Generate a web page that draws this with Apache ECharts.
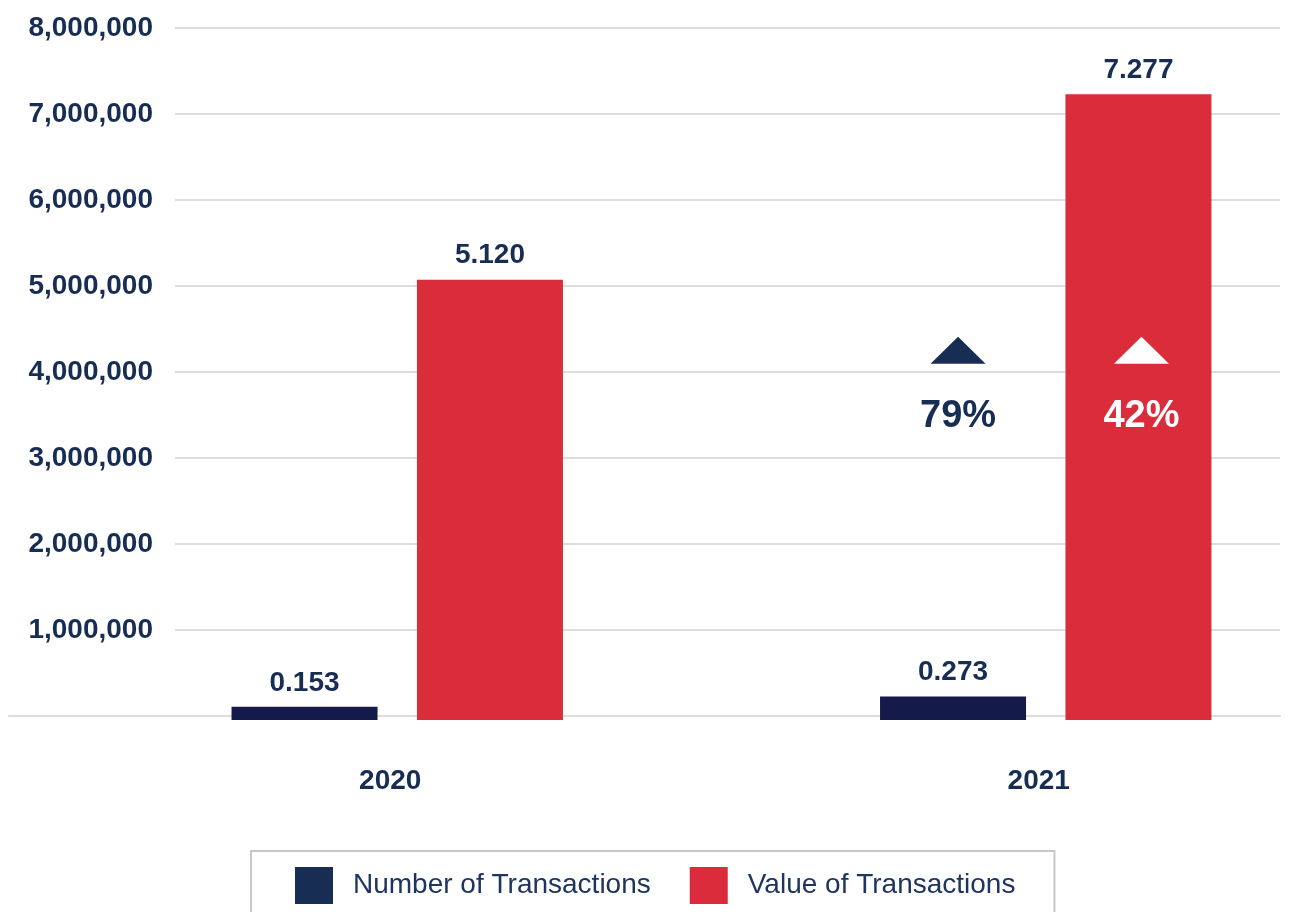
<!DOCTYPE html>
<html>
<head>
<meta charset="utf-8">
<title>Number and Value of Transactions</title>
<script src="https://cdn.jsdelivr.net/npm/echarts@6/dist/echarts.min.js"></script>
<style>
  html, body { margin: 0; padding: 0; background: #ffffff; }
  #chart { width: 1293px; height: 912px; }
</style>
</head>
<body>
<div id="chart"></div>
<script>
// Chart data
const years = ['2020', '2021'];
const numberOfTransactions = [153000, 273000];
const valueOfTransactions = [5120000, 7277000];
const changeLabels = ['79%', '42%'];   // year-on-year change shown over the 2021 bars
const axisMin = 0;
const axisMax = 8000000;
const axisStep = 1000000;

const FONT = "'Liberation Sans', Arial, Helvetica, sans-serif";
const NAVY_TEXT = '#172d54';
const NAVY_BAR = '#141a4a';
const NAVY_KEY = '#172d54';
const RED = '#db2c3b';
const GRID_LINE = '#dddddd';

function withCommas(v) {
  return String(v).replace(/\B(?=(\d{3})+(?!\d))/g, ',');
}
function millions(p) {
  return (p.value / 1e6).toFixed(3);
}

const chart = echarts.init(document.getElementById('chart'), null, { renderer: 'canvas' });

const valueLabel = {
  show: true,
  position: 'top',
  distance: 10,
  formatter: millions,
  color: NAVY_TEXT,
  fontFamily: FONT,
  fontWeight: 'bold',
  fontSize: 28
};

chart.setOption({
  backgroundColor: '#ffffff',
  animation: false,
  textStyle: { fontFamily: FONT },
  legend: {
    left: 251,
    top: 851,
    orient: 'horizontal',
    padding: [16, 39, 16, 44],
    itemWidth: 38,
    itemHeight: 37,
    itemGap: 39,
    borderColor: '#c8c8c8',
    borderWidth: 2,
    icon: 'rect',
    textStyle: {
      color: '#1f3560',
      fontFamily: FONT,
      fontSize: 28,
      fontWeight: 'normal',
      padding: [0, 0, 0, 15]
    },
    data: [
      { name: 'Number of Transactions', itemStyle: { color: NAVY_KEY } },
      { name: 'Value of Transactions', itemStyle: { color: RED } }
    ]
  },
  grid: [
    // value scale with gridlines and labels
    { left: 175, right: 13, top: 28, height: 688 },
    // bars (band wider than the page so the year groups sit where they belong)
    { left: 73, width: 1297, top: 32, height: 688, outerBoundsMode: 'none' },
    // baseline that runs under the value labels
    { left: 9, right: 13, top: 28, height: 688 }
  ],
  xAxis: [
    { gridIndex: 0, type: 'category', data: years, show: false },
    {
      gridIndex: 1,
      type: 'category',
      data: years,
      axisLine: { show: false },
      axisTick: { show: false },
      axisLabel: {
        margin: 47,
        padding: [0, 14, 0, 0],
        color: NAVY_TEXT,
        fontFamily: FONT,
        fontWeight: 'bold',
        fontSize: 28
      }
    },
    {
      gridIndex: 2,
      type: 'category',
      data: years,
      axisLine: { show: true, lineStyle: { color: GRID_LINE, width: 2 } },
      axisTick: { show: false },
      axisLabel: { show: false }
    }
  ],
  yAxis: [
    {
      gridIndex: 0,
      type: 'value',
      min: axisMin,
      max: axisMax,
      interval: axisStep,
      axisLine: { show: false },
      axisTick: { show: false },
      splitLine: { show: true, lineStyle: { color: GRID_LINE, width: 2 } },
      axisLabel: {
        margin: 22,
        showMinLabel: false,
        formatter: withCommas,
        color: NAVY_TEXT,
        fontFamily: FONT,
        fontWeight: 'bold',
        fontSize: 28
      }
    },
    { gridIndex: 1, type: 'value', min: axisMin, max: axisMax, interval: axisStep, show: false, splitLine: { show: false } },
    { gridIndex: 2, type: 'value', min: axisMin, max: axisMax, interval: axisStep, show: false, splitLine: { show: false } }
  ],
  series: [
    {
      name: 'Number of Transactions',
      type: 'bar',
      xAxisIndex: 1,
      yAxisIndex: 1,
      data: numberOfTransactions,
      barWidth: 146,
      barGap: '27%',
      itemStyle: { color: NAVY_BAR },
      label: valueLabel,
      markPoint: {
        symbol: 'triangle',
        symbolSize: [55, 27],
        symbolOffset: [5, 0],
        itemStyle: { color: NAVY_TEXT },
        label: {
          show: true,
          position: 'bottom',
          distance: 34,
          formatter: changeLabels[0],
          color: NAVY_TEXT,
          fontFamily: FONT,
          fontWeight: 'bold',
          fontSize: 38
        },
        data: [{ coord: [years[1], 4300000] }]
      }
    },
    {
      name: 'Value of Transactions',
      type: 'bar',
      xAxisIndex: 1,
      yAxisIndex: 1,
      data: valueOfTransactions,
      barWidth: 146,
      itemStyle: { color: RED },
      label: valueLabel,
      markPoint: {
        symbol: 'triangle',
        symbolSize: [55, 27],
        symbolOffset: [3, 0],
        itemStyle: { color: '#ffffff' },
        label: {
          show: true,
          position: 'bottom',
          distance: 34,
          formatter: changeLabels[1],
          color: '#ffffff',
          fontFamily: FONT,
          fontWeight: 'bold',
          fontSize: 38
        },
        data: [{ coord: [years[1], 4300000] }]
      }
    }
  ]
});
</script>
</body>
</html>
